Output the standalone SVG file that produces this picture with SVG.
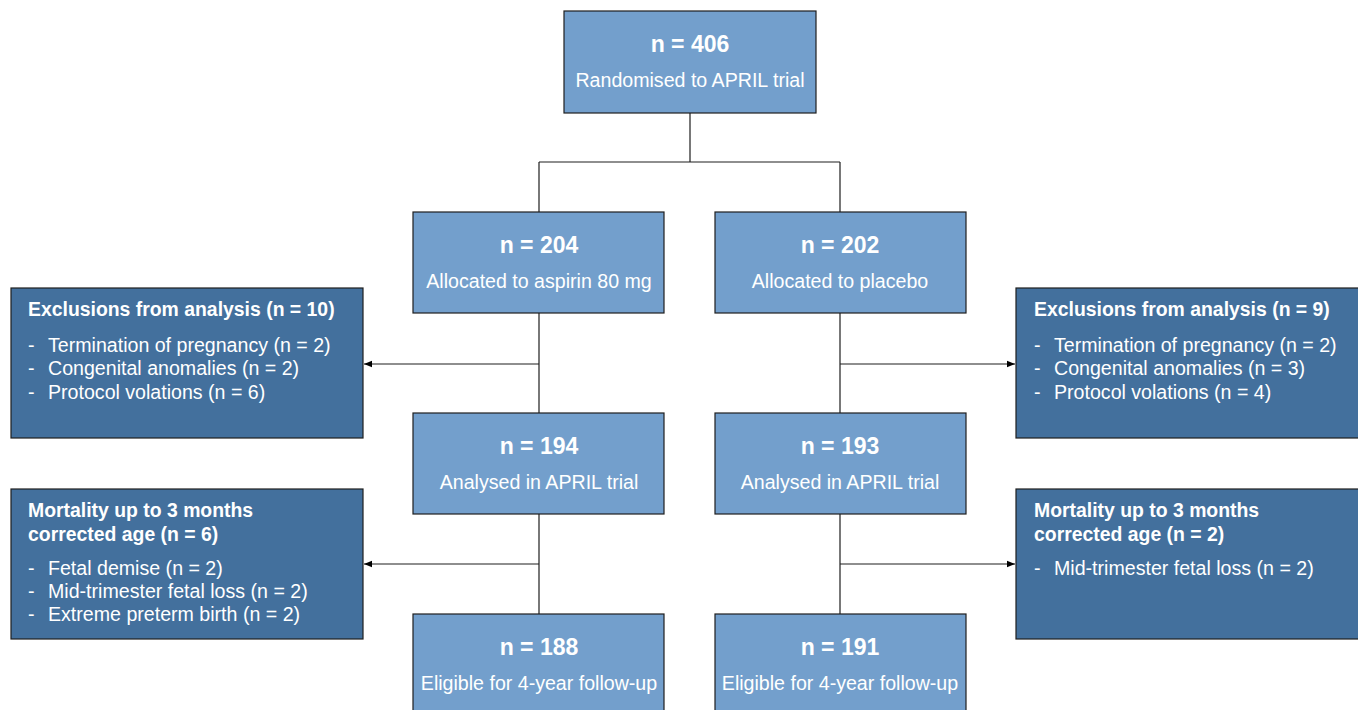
<svg xmlns="http://www.w3.org/2000/svg" width="1358" height="710" viewBox="0 0 1358 710">
<defs>
<style>
.lb{fill:#739fcc;stroke:#1e1e1e;stroke-width:1.2}
.db{fill:#43709d;stroke:#1e1e1e;stroke-width:1.2}
.t{font-family:"Liberation Sans",Arial,sans-serif;fill:#fff}
.n{font-size:23px;font-weight:bold;text-anchor:middle}
.s{font-size:19.6px;text-anchor:middle}
.h{font-size:19.4px;font-weight:bold}
.i{font-size:19.6px}
.c{fill:none;stroke:#1e1e1e;stroke-width:1.2}
</style>
<marker id="ah" viewBox="0 0 10 10" refX="10" refY="5" markerWidth="8" markerHeight="8" markerUnits="userSpaceOnUse" orient="auto">
<path d="M0,1 L10,5 L0,9 z" fill="#000"/>
</marker>
</defs>
<g id="connectors">
<path class="c" d="M690,113 V162 M539,162 H840 M539,162 V212 M840,162 V212"/>
<path class="c" d="M539,313 V413 M840,313 V413"/>
<path class="c" d="M539,514 V614 M840,514 V614"/>
<path class="c" d="M539,364 H364" marker-end="url(#ah)"/>
<path class="c" d="M840,364 H1015" marker-end="url(#ah)"/>
<path class="c" d="M539,564 H364" marker-end="url(#ah)"/>
<path class="c" d="M840,564 H1015" marker-end="url(#ah)"/>
</g>
<g id="n406">
<rect class="lb" x="564" y="11" width="252" height="102"/>
<text class="t n" x="690" y="52">n = 406</text>
<text class="t s" x="690" y="87">Randomised to APRIL trial</text>
</g>
<g id="n204">
<rect class="lb" x="413" y="212" width="251" height="101"/>
<text class="t n" x="539" y="253">n = 204</text>
<text class="t s" x="539" y="288">Allocated to aspirin 80 mg</text>
</g>
<g id="n202">
<rect class="lb" x="715" y="212" width="251" height="101"/>
<text class="t n" x="840" y="253">n = 202</text>
<text class="t s" x="840" y="288">Allocated to placebo</text>
</g>
<g id="exclLeft">
<rect class="db" x="11" y="288" width="352" height="150"/>
<text class="t h" x="28" y="316">Exclusions from analysis (n = 10)</text>
<text class="t i" x="28" y="352">-</text><text class="t i" x="48" y="352">Termination of pregnancy (n = 2)</text>
<text class="t i" x="28" y="375">-</text><text class="t i" x="48" y="375">Congenital anomalies (n = 2)</text>
<text class="t i" x="28" y="399">-</text><text class="t i" x="48" y="399">Protocol volations (n = 6)</text>
</g>
<g id="exclRight">
<rect class="db" x="1016" y="288" width="346" height="150"/>
<text class="t h" x="1034" y="316">Exclusions from analysis (n = 9)</text>
<text class="t i" x="1034" y="352">-</text><text class="t i" x="1054" y="352">Termination of pregnancy (n = 2)</text>
<text class="t i" x="1034" y="375">-</text><text class="t i" x="1054" y="375">Congenital anomalies (n = 3)</text>
<text class="t i" x="1034" y="399">-</text><text class="t i" x="1054" y="399">Protocol volations (n = 4)</text>
</g>
<g id="n194">
<rect class="lb" x="413" y="413" width="251" height="101"/>
<text class="t n" x="539" y="454">n = 194</text>
<text class="t s" x="539" y="489">Analysed in APRIL trial</text>
</g>
<g id="n193">
<rect class="lb" x="715" y="413" width="251" height="101"/>
<text class="t n" x="840" y="454">n = 193</text>
<text class="t s" x="840" y="489">Analysed in APRIL trial</text>
</g>
<g id="mortLeft">
<rect class="db" x="11" y="489" width="352" height="150"/>
<text class="t h" x="28" y="517">Mortality up to 3 months</text>
<text class="t h" x="28" y="541">corrected age (n = 6)</text>
<text class="t i" x="28" y="575">-</text><text class="t i" x="48" y="575">Fetal demise (n = 2)</text>
<text class="t i" x="28" y="598">-</text><text class="t i" x="48" y="598">Mid-trimester fetal loss (n = 2)</text>
<text class="t i" x="28" y="621">-</text><text class="t i" x="48" y="621">Extreme preterm birth (n = 2)</text>
</g>
<g id="mortRight">
<rect class="db" x="1016" y="489" width="346" height="150"/>
<text class="t h" x="1034" y="517">Mortality up to 3 months</text>
<text class="t h" x="1034" y="541">corrected age (n = 2)</text>
<text class="t i" x="1034" y="575">-</text><text class="t i" x="1054" y="575">Mid-trimester fetal loss (n = 2)</text>
</g>
<g id="n188">
<rect class="lb" x="413" y="614" width="251" height="101"/>
<text class="t n" x="539" y="655">n = 188</text>
<text class="t s" x="539" y="690">Eligible for 4-year follow-up</text>
</g>
<g id="n191">
<rect class="lb" x="715" y="614" width="251" height="101"/>
<text class="t n" x="840" y="655">n = 191</text>
<text class="t s" x="840" y="690">Eligible for 4-year follow-up</text>
</g>
</svg>
